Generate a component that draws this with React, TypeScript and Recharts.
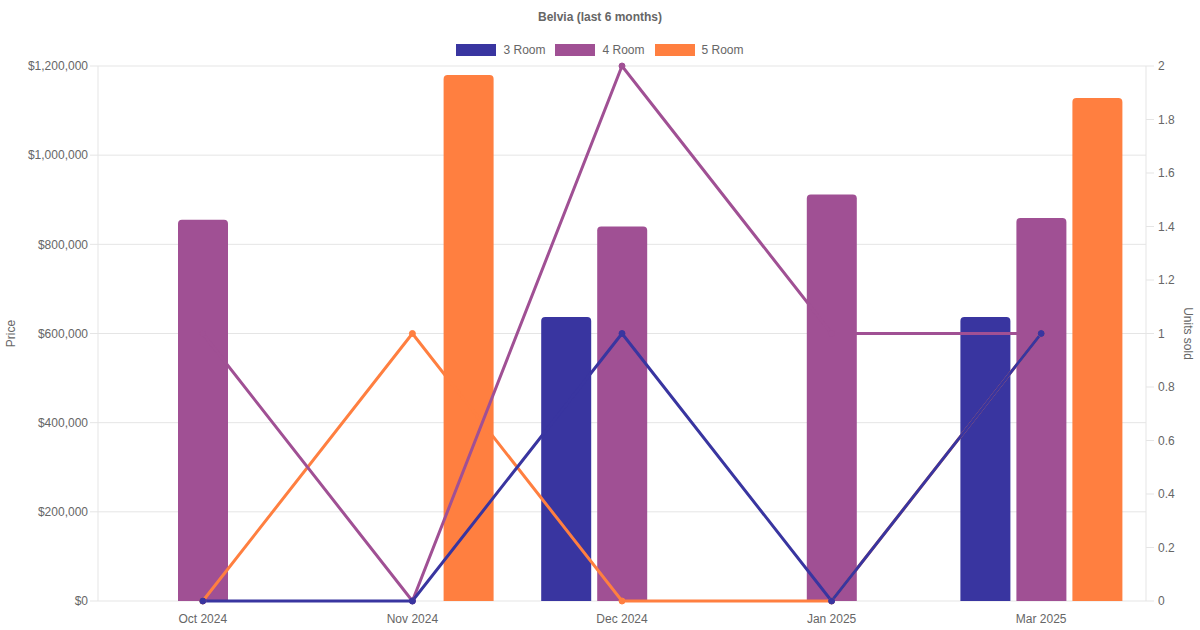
import React from 'react';
import { ComposedChart, Bar, Line, XAxis, YAxis, CartesianGrid } from 'recharts';

const months = ['Oct 2024', 'Nov 2024', 'Dec 2024', 'Jan 2025', 'Mar 2025'];
const price3Room: (number | null)[] = [null, null, 637000, null, 637000];
const price4Room: (number | null)[] = [855000, null, 840000, 912000, 859000];
const price5Room: (number | null)[] = [null, 1180000, null, null, 1128000];
const units3Room = [0, 0, 1, 0, 1];
const units4Room = [1, 0, 2, 1, 1];
const units5Room = [0, 1, 0, 0, 1];
const priceTicks = [0, 200000, 400000, 600000, 800000, 1000000, 1200000];
const unitTicks = [0, 0.2, 0.4, 0.6, 0.8, 1, 1.2, 1.4, 1.6, 1.8, 2];

const C3 = '#3935a0';
const C4 = '#a05094';
const C5 = '#ff7f40';
const FONT = '"Liberation Sans", Arial, Helvetica, sans-serif';
const TXT = '#666';
const GRID = '#e5e5e5';

const data = months.map((m, i) => ({
  month: m,
  p3: price3Room[i],
  p4: price4Room[i],
  p5: price5Room[i],
  u3: units3Room[i],
  u4: units4Room[i],
  u5: units5Room[i],
}));

const legendItems = [
  { name: '3 Room', color: C3 },
  { name: '4 Room', color: C4 },
  { name: '5 Room', color: C5 },
];

const fmtPrice = (v: number) => '$' + v.toLocaleString('en-US');

export default function App() {
  const tick = { fill: TXT, fontSize: 12, fontFamily: FONT };
  return (
    <div style={{ position: 'absolute', left: 0, top: 0, width: 1200, height: 630, background: '#fff', fontFamily: FONT }}>
      <div style={{ position: 'absolute', top: 10, left: 0, width: 1200, textAlign: 'center', fontWeight: 'bold', fontSize: 12, lineHeight: '14px', color: TXT }}>
        Belvia (last 6 months)
      </div>
      <div style={{ position: 'absolute', top: 43, left: 0, width: 1200, display: 'flex', justifyContent: 'center', alignItems: 'center', fontSize: 12, lineHeight: '14px', color: TXT }}>
        {legendItems.map((it, i) => (
          <div key={it.name} style={{ display: 'flex', alignItems: 'center', marginLeft: i === 0 ? 0 : 10 }}>
            <div style={{ width: 40, height: 12, background: it.color, marginRight: 7 }} />
            <span>{it.name}</span>
          </div>
        ))}
      </div>
      <ComposedChart
        width={1200}
        height={630}
        data={data}
        margin={{ top: 66, right: 0, bottom: 0, left: 0 }}
        barGap={6}
        barSize={50}
      >
        <CartesianGrid yAxisId="left" vertical={false} stroke={GRID} />
        <XAxis
          dataKey="month"
          height={29}
          interval={0}
          tickLine={false}
          tickSize={8}
          tickMargin={5}
          axisLine={false}
          tick={tick}
        />
        <YAxis
          yAxisId="left"
          orientation="left"
          width={98}
          domain={[0, 1200000]}
          ticks={priceTicks}
          tickFormatter={fmtPrice}
          tick={tick}
          tickSize={8}
          tickMargin={2}
          axisLine={{ stroke: GRID }}
          tickLine={{ stroke: GRID }}
          label={{
            content: (props: any) => {
              const vb = props.viewBox || { x: 0, y: 66, width: 98, height: 535 };
              const x = vb.x + 11;
              const y = vb.y + vb.height / 2;
              return (
                <text x={x} y={y} transform={`rotate(-90 ${x} ${y})`} textAnchor="middle" dominantBaseline="central" fill={TXT} fontSize={12} fontFamily={FONT}>
                  Price
                </text>
              );
            },
          }}
        />
        <YAxis
          yAxisId="right"
          orientation="right"
          width={54}
          domain={[0, 2]}
          ticks={unitTicks}
          tick={tick}
          tickSize={8}
          tickMargin={4}
          axisLine={{ stroke: GRID }}
          tickLine={{ stroke: GRID }}
          label={{
            content: (props: any) => {
              const vb = props.viewBox || { x: 1146, y: 66, width: 54, height: 535 };
              const x = vb.x + vb.width - 12;
              const y = vb.y + vb.height / 2;
              return (
                <text x={x} y={y} transform={`rotate(90 ${x} ${y})`} textAnchor="middle" dominantBaseline="central" fill={TXT} fontSize={12} fontFamily={FONT}>
                  Units sold
                </text>
              );
            },
          }}
        />
        <Bar yAxisId="left" dataKey="p3" name="3 Room" fill={C3} radius={[4, 4, 0, 0]} isAnimationActive={false} />
        <Bar yAxisId="left" dataKey="p4" name="4 Room" fill={C4} radius={[4, 4, 0, 0]} isAnimationActive={false} />
        <Bar yAxisId="left" dataKey="p5" name="5 Room" fill={C5} radius={[4, 4, 0, 0]} isAnimationActive={false} />
        <Line yAxisId="right" type="linear" dataKey="u5" name="5 Room units" stroke={C5} strokeWidth={3} dot={{ r: 3, fill: C5, stroke: C5, strokeWidth: 1 }} activeDot={false} isAnimationActive={false} />
        <Line yAxisId="right" type="linear" dataKey="u4" name="4 Room units" stroke={C4} strokeWidth={3} dot={{ r: 3, fill: C4, stroke: C4, strokeWidth: 1 }} activeDot={false} isAnimationActive={false} />
        <Line yAxisId="right" type="linear" dataKey="u3" name="3 Room units" stroke={C3} strokeWidth={3} dot={{ r: 3, fill: C3, stroke: C3, strokeWidth: 1 }} activeDot={false} isAnimationActive={false} />
      </ComposedChart>
    </div>
  );
}
